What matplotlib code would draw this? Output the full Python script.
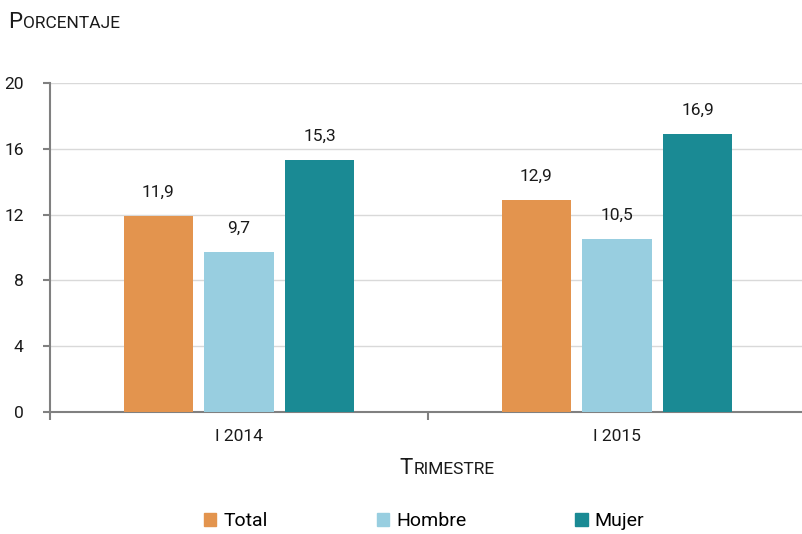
import matplotlib
matplotlib.use("Agg")
import matplotlib.pyplot as plt
import numpy as np
from matplotlib.offsetbox import TextArea, HPacker, AnchoredOffsetbox
from matplotlib.patches import Patch

categories = ["I 2014", "I 2015"]
series_names = ["Total", "Hombre", "Mujer"]
total = [11.9, 12.9]
hombre = [9.7, 10.5]
mujer = [15.3, 16.9]
values = [total, hombre, mujer]
colors = ["#E3944E", "#98CEE0", "#1A8A94"]
yticks = [0, 4, 8, 12, 16, 20]

plt.rcParams['font.family'] = ['Roboto', 'DejaVu Sans']
fig = plt.figure(figsize=(8.03, 5.34), dpi=100)
ax = fig.add_axes([50/803, 1-412/534, 756/803, 329/534])

x = np.arange(len(categories))
offset = 0.214
width = 0.183
for i, (name, vals, c) in enumerate(zip(series_names, values, colors)):
    pos = x + (i-1)*offset
    ax.bar(pos, vals, width=width, color=c, label=name, zorder=3)
    for p, v in zip(pos, vals):
        ax.text(p, v + 1.0, f"{v:.1f}".replace(".", ","), ha="center", va="bottom",
                fontsize=12.5, color="#1a1a1a")

ax.set_xlim(-0.5, 1.5)
ax.set_ylim(0, 20)
ax.set_yticks(yticks)
ax.set_yticklabels([str(t) for t in yticks], fontsize=12.5, color="#1a1a1a")
ax.yaxis.grid(True, color="#d9d9d9", linewidth=1, zorder=0)
ax.set_axisbelow(True)
ax.tick_params(axis="y", length=5, color="#808080", width=1.5, pad=14)
for s in ["top", "right"]:
    ax.spines[s].set_visible(False)
for s in ["left", "bottom"]:
    ax.spines[s].set_color("#808080")
    ax.spines[s].set_linewidth(1.5)

ax.set_xticks([-0.5, 0.5, 1.5])
ax.set_xticklabels([])
ax.tick_params(axis="x", which="major", length=6, color="#808080", width=1.5)
ax.set_xticks(x, minor=True)
ax.set_xticklabels(categories, minor=True, fontsize=12.5, color="#1a1a1a")
ax.tick_params(axis="x", which="minor", length=0, pad=12)

def small_caps(text, big=16, small=12.5):
    parts = [TextArea(text[0], textprops=dict(fontsize=big, color="#1a1a1a")),
             TextArea(text[1:].upper(), textprops=dict(fontsize=small, color="#1a1a1a"))]
    return HPacker(children=parts, align="baseline", pad=0, sep=0.5)

yl = AnchoredOffsetbox(loc="center left", child=small_caps("Porcentaje"), frameon=False,
                       bbox_to_anchor=(8/803, 1-23/534), bbox_transform=fig.transFigure,
                       borderpad=0, pad=0)
fig.add_artist(yl)
xl = AnchoredOffsetbox(loc="center", child=small_caps("Trimestre"), frameon=False,
                       bbox_to_anchor=(447/803, 1-469/534), bbox_transform=fig.transFigure,
                       borderpad=0, pad=0)
fig.add_artist(xl)

handles = [Patch(color=c, label=n) for n, c in zip(series_names, colors)]
fig.legend(handles=handles, loc="center", bbox_to_anchor=(424/803, 1-521/534), ncol=3,
           frameon=False, fontsize=14, handlelength=0.65, handleheight=0.65,
           handletextpad=0.35, columnspacing=5.6)

fig.savefig("out.png", dpi=100)
